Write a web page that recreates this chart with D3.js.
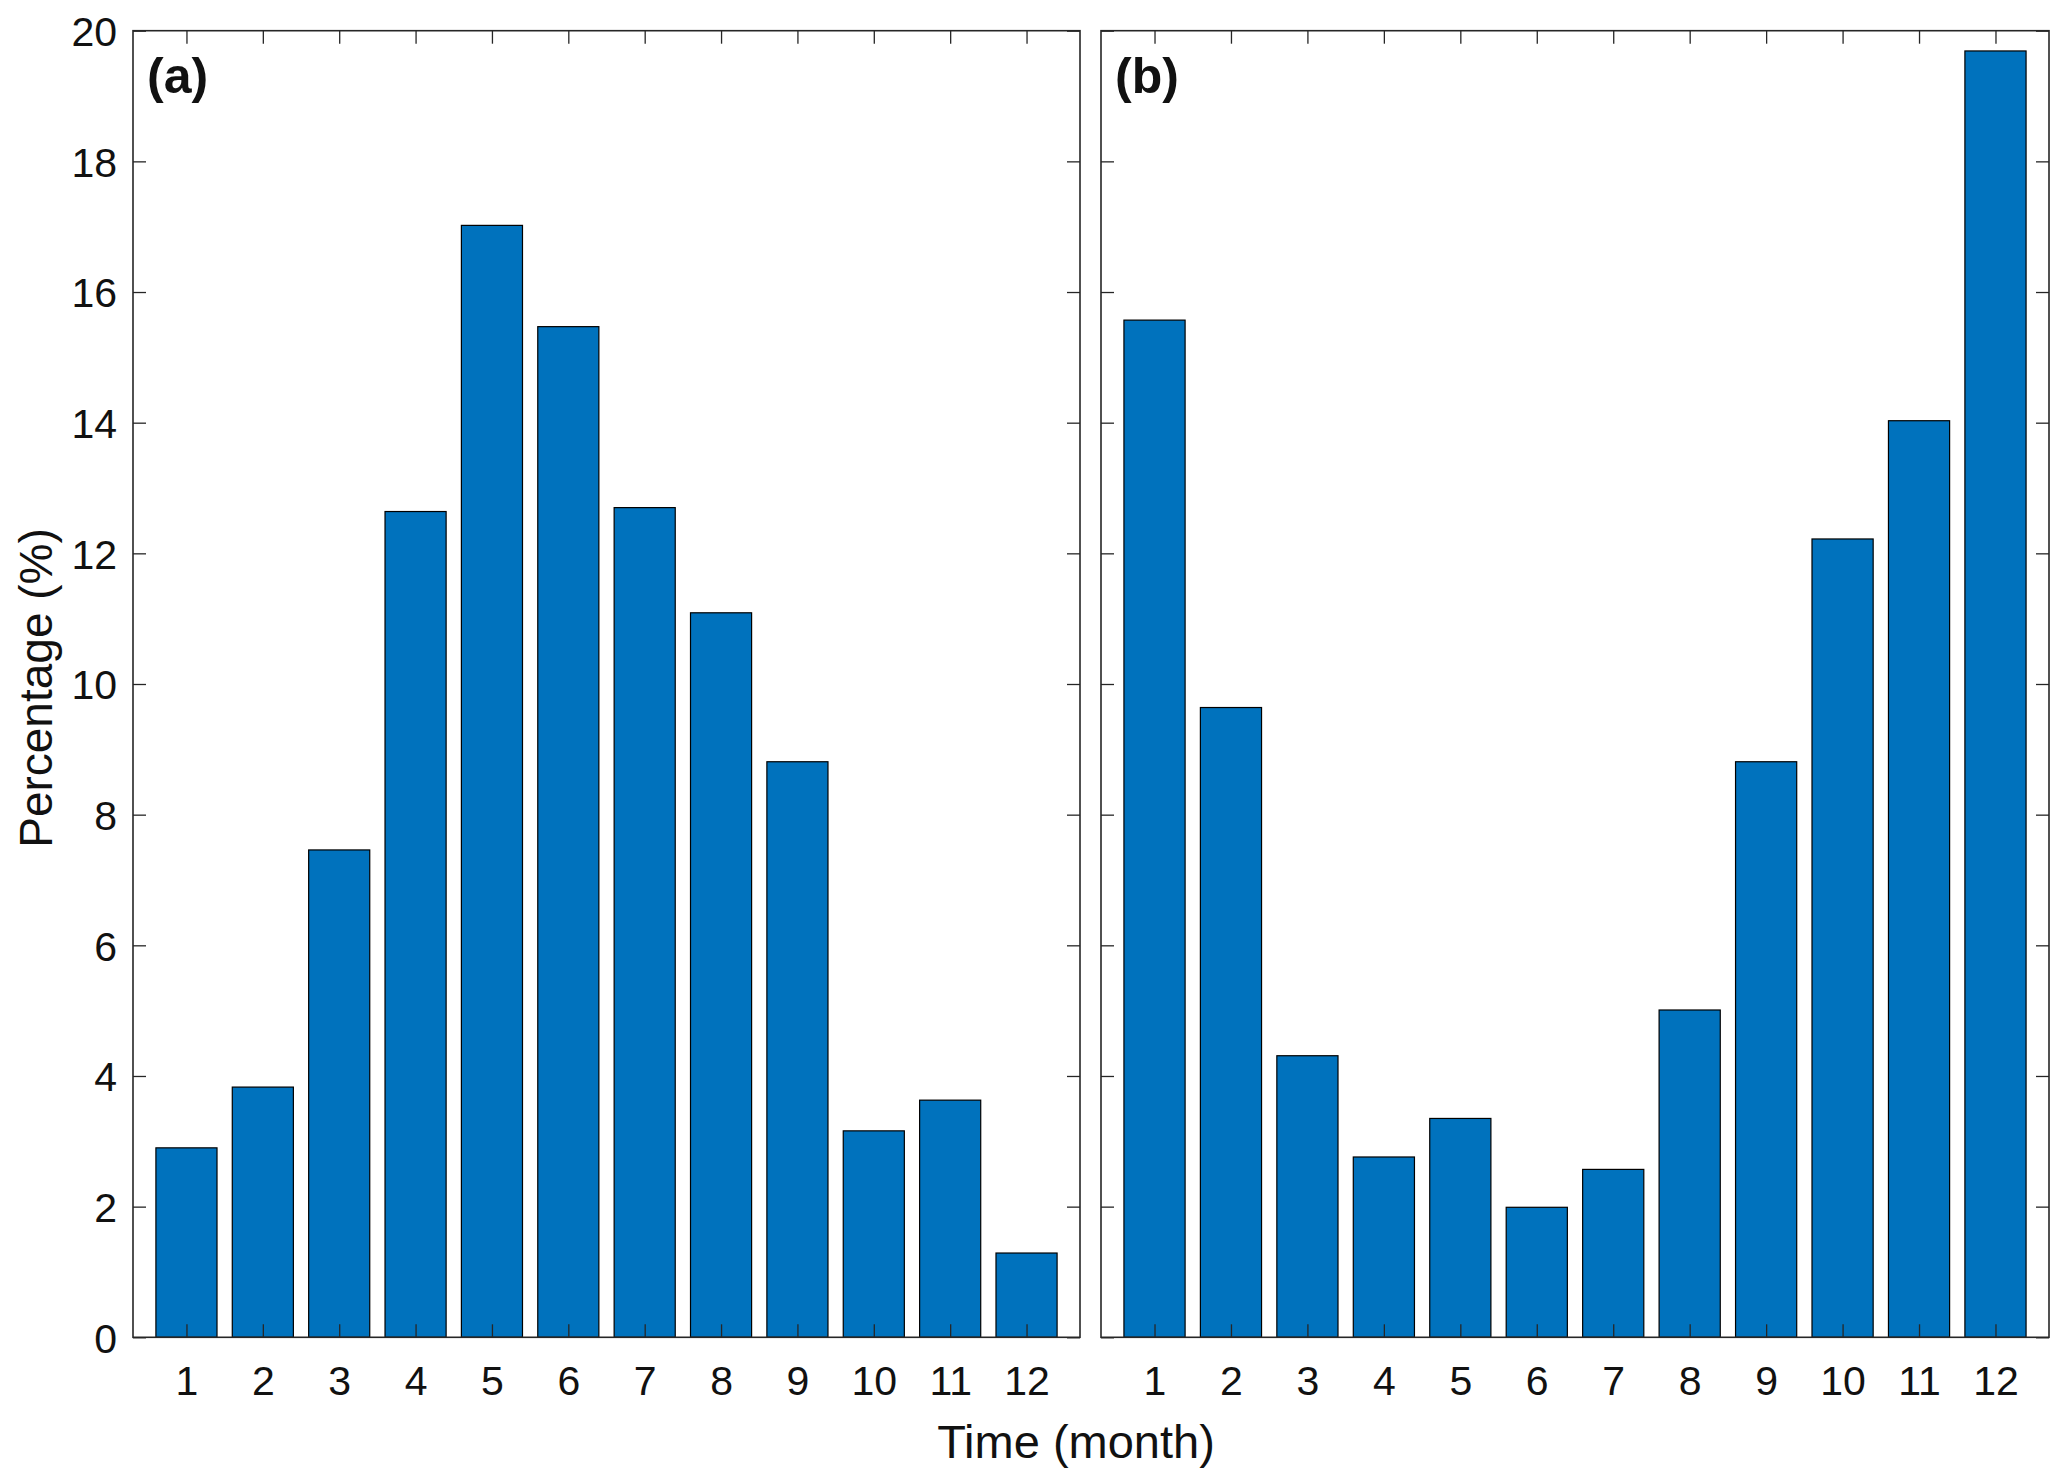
<!DOCTYPE html>
<html>
<head>
<meta charset="utf-8">
<script src="https://cdn.jsdelivr.net/npm/d3@7"></script>
<style>
  html, body { margin: 0; padding: 0; background: #ffffff; }
  svg { display: block; }
  text { font-family: "Liberation Sans", Arial, Helvetica, sans-serif; fill: #111; }
</style>
</head>
<body>
<svg id="chart" width="2067" height="1484"></svg>
<script>
const months = [1, 2, 3, 4, 5, 6, 7, 8, 9, 10, 11, 12];
const valuesA = [2.90, 3.83, 7.46, 12.64, 17.02, 15.47, 12.70, 11.09, 8.81, 3.16, 3.63, 1.29];
const valuesB = [15.57, 9.64, 4.31, 2.76, 3.35, 1.99, 2.57, 5.01, 8.81, 12.22, 14.03, 19.69];
const yTicks = [0, 2, 4, 6, 8, 10, 12, 14, 16, 18, 20];
const panelLabels = ["(a)", "(b)"];
const xTitle = "Time (month)";
const yTitle = "Percentage (%)";

(function () {
const svg = d3.select("#chart");
const W = 2067, H = 1484;
svg.append("rect").attr("width", W).attr("height", H).attr("fill", "#fff");

const plotTop = 30.7, plotBottom = 1337.3;
const panels = [
  { left: 133, right: 1080, values: valuesA, label: panelLabels[0] },
  { left: 1101, right: 2049, values: valuesB, label: panelLabels[1] }
];
const y = d3.scaleLinear().domain([0, 20]).range([plotBottom, plotTop]);
const axisColor = "#262626";
const tickLen = 13;

panels.forEach((p, i) => {
  const x = d3.scaleLinear().domain([0.3, 12.7]).range([p.left, p.right]);
  const g = svg.append("g");
  const bw = x(1.4) - x(0.6);

  g.selectAll("rect.bar").data(p.values).enter().append("rect")
    .attr("class", "bar")
    .attr("x", (d, j) => x(months[j]) - bw / 2)
    .attr("y", d => y(d))
    .attr("width", bw)
    .attr("height", d => y(0) - y(d))
    .attr("fill", "#0072BD")
    .attr("stroke", "#000")
    .attr("stroke-width", 1.2);

  const xb = g.append("g").attr("transform", `translate(0,${plotBottom})`)
    .call(d3.axisBottom(x).tickValues(months).tickSize(-tickLen).tickPadding(0).tickFormat(d3.format("d")));
  xb.select(".domain").remove();
  xb.selectAll("line").attr("stroke", axisColor).attr("stroke-width", 1.3);
  xb.selectAll("text").attr("y", 58).attr("dy", 0).style("font-size", "41px")
    .style("font-family", '"Liberation Sans", Arial, sans-serif').attr("fill", "#111");

  const xt = g.append("g").attr("transform", `translate(0,${plotTop})`)
    .call(d3.axisTop(x).tickValues(months).tickSize(-tickLen).tickFormat(""));
  xt.select(".domain").remove();
  xt.selectAll("line").attr("stroke", axisColor).attr("stroke-width", 1.3);

  const yl = g.append("g").attr("transform", `translate(${p.left},0)`)
    .call(d3.axisLeft(y).tickValues(yTicks).tickSize(-tickLen).tickPadding(16)
      .tickFormat(i === 0 ? d3.format("d") : ""));
  yl.select(".domain").remove();
  yl.selectAll("line").attr("stroke", axisColor).attr("stroke-width", 1.3);
  yl.selectAll("text").attr("dy", "0.36em").style("font-size", "41px")
    .style("font-family", '"Liberation Sans", Arial, sans-serif').attr("fill", "#111");

  const yr = g.append("g").attr("transform", `translate(${p.right},0)`)
    .call(d3.axisRight(y).tickValues(yTicks).tickSize(-tickLen).tickFormat(""));
  yr.select(".domain").remove();
  yr.selectAll("line").attr("stroke", axisColor).attr("stroke-width", 1.3);

  g.append("rect")
    .attr("x", p.left).attr("y", plotTop)
    .attr("width", p.right - p.left).attr("height", plotBottom - plotTop)
    .attr("fill", "none").attr("stroke", axisColor).attr("stroke-width", 1.6);

  g.append("text")
    .attr("x", p.left + 14).attr("y", 93)
    .style("font-size", "50px").style("font-weight", "bold")
    .text(p.label);
});

svg.append("text")
  .attr("x", 1076).attr("y", 1458)
  .attr("text-anchor", "middle")
  .style("font-size", "47px")
  .text(xTitle);

svg.append("text")
  .attr("transform", `translate(52,688) rotate(-90)`)
  .attr("text-anchor", "middle")
  .style("font-size", "46px")
  .text(yTitle);
})();
</script>
</body>
</html>
